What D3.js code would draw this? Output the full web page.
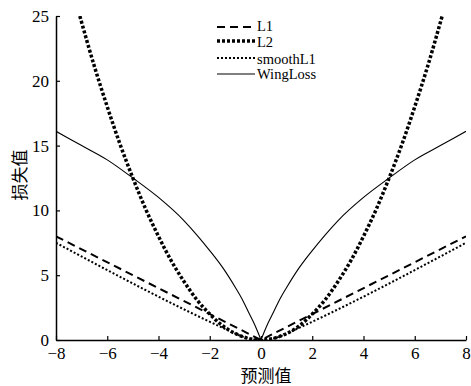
<!DOCTYPE html>
<html>
<head>
<meta charset="utf-8">
<script src="https://cdn.jsdelivr.net/npm/d3@7/dist/d3.min.js"></script>
<style>
  body { margin: 0; background: #fff; }
  svg text { fill: #000; }
  .serif { font-family: "Liberation Serif", "Times New Roman", "DejaVu Serif", serif; }
  .cjk { font-family: "Noto Sans CJK SC", sans-serif; }
</style>
</head>
<body>
<svg id="chart" width="471" height="386"></svg>
<script>
// values
const xTicks = [-8, -6, -4, -2, 0, 2, 4, 6, 8];
const yTicks = [0, 5, 10, 15, 20, 25];
const seriesNames = ["L1", "L2", "smoothL1", "WingLoss"];

const l1X = [-8, 0, 8];
const l1Y = [8, 0, 8];

const l2X = [-7.07, -6.5, -6, -5.5, -5, -4.5, -4, -3.5, -3, -2.5, -2, -1.5, -1, -0.5, 0,
             0.5, 1, 1.5, 2, 2.5, 3, 3.5, 4, 4.5, 5, 5.5, 6, 6.5, 7.07];
const l2Y = [25, 21.1, 18, 15.1, 12.5, 10.1, 8, 6.1, 4.5, 3.1, 2, 1.1, 0.5, 0.13, 0,
             0.13, 0.5, 1.1, 2, 3.1, 4.5, 6.1, 8, 10.1, 12.5, 15.1, 18, 21.1, 25];

const smoothX = [-8, -1, -0.75, -0.5, -0.25, 0, 0.25, 0.5, 0.75, 1, 8];
const smoothY = [7.5, 0.5, 0.28, 0.13, 0.03, 0, 0.03, 0.13, 0.28, 0.5, 7.5];

// WingLoss has a sharp point at 0, so each side is kept separately
const wingLeftX = [-8, -7, -6, -5, -4, -3, -2.5, -2, -1.5, -1, -0.75, -0.5, -0.25, -0.1, 0];
const wingLeftY = [16.1, 15.0, 13.9, 12.5, 11.0, 9.2, 8.1, 6.9, 5.6, 4.05, 3.2, 2.2, 1.2, 0.5, 0];
const wingRightX = [0, 0.1, 0.25, 0.5, 0.75, 1, 1.5, 2, 2.5, 3, 4, 5, 6, 7, 8];
const wingRightY = [0, 0.5, 1.2, 2.2, 3.2, 4.05, 5.6, 6.9, 8.1, 9.2, 11.0, 12.5, 13.9, 15.0, 16.1];

const svg = d3.select("#chart");
const mLeft = 56, mRight = 466, mTop = 16, mBottom = 340;
const serifFont = '"Liberation Serif", "Times New Roman", "DejaVu Serif", serif';

const x = d3.scaleLinear().domain([-8, 8]).range([mLeft, mRight]);
const y = d3.scaleLinear().domain([0, 25]).range([mBottom, mTop]);

svg.append("defs").append("clipPath").attr("id", "plot")
  .append("rect")
  .attr("x", mLeft).attr("y", mTop)
  .attr("width", mRight - mLeft).attr("height", mBottom - mTop);

const series = [
  { name: seriesNames[0], parts: [[l1X, l1Y]], width: 2, dash: "8,5", curve: d3.curveLinear },
  { name: seriesNames[1], parts: [[l2X, l2Y]], width: 3.5, dash: "3,2", curve: d3.curveMonotoneX },
  { name: seriesNames[2], parts: [[smoothX, smoothY]], width: 2, dash: "2,2", curve: d3.curveMonotoneX },
  { name: seriesNames[3], parts: [[wingLeftX, wingLeftY], [wingRightX, wingRightY]], width: 1.1, dash: null, curve: d3.curveMonotoneX }
];

const g = svg.append("g").attr("clip-path", "url(#plot)");
series.forEach(s => {
  s.parts.forEach(([xs, ys]) => {
    const pts = xs.map((v, i) => [v, ys[i]]);
    g.append("path")
      .datum(pts)
      .attr("fill", "none")
      .attr("stroke", "#000")
      .attr("stroke-width", s.width)
      .attr("stroke-dasharray", s.dash)
      .attr("d", d3.line().x(d => x(d[0])).y(d => y(d[1])).curve(s.curve));
  });
});

// axes, ticks point inward
const xAxis = svg.append("g")
  .attr("transform", `translate(0,${mBottom})`)
  .call(d3.axisBottom(x).tickValues(xTicks).tickSizeInner(-4).tickSizeOuter(0).tickPadding(7));
const yAxis = svg.append("g")
  .attr("transform", `translate(${mLeft},0)`)
  .call(d3.axisLeft(y).tickValues(yTicks).tickSizeInner(-4).tickSizeOuter(0).tickPadding(7));

[xAxis, yAxis].forEach(a => {
  a.attr("font-family", serifFont).attr("font-size", 17);
  a.select(".domain").attr("stroke", "#000").attr("stroke-width", 1.5);
  a.selectAll(".tick line").attr("stroke", "#000").attr("stroke-width", 1.2);
  a.selectAll(".tick text")
    .style("font-family", serifFont)
    .style("font-size", "17px")
    .attr("fill", "#000");
});

svg.append("text")
  .attr("class", "cjk")
  .attr("x", 266).attr("y", 382)
  .attr("text-anchor", "middle")
  .style("font-size", "17px")
  .text("预测值");

svg.append("text")
  .attr("class", "cjk")
  .attr("transform", "translate(26,175) rotate(-90)")
  .attr("text-anchor", "middle")
  .style("font-size", "17px")
  .text("损失值");

// legend
const legendLines = [27, 41, 58, 74];
const legendBase = [31, 47, 64, 79];
const legend = svg.append("g");
series.forEach((s, i) => {
  legend.append("line")
    .attr("x1", 217).attr("x2", 255)
    .attr("y1", legendLines[i]).attr("y2", legendLines[i])
    .attr("stroke", "#000")
    .attr("stroke-width", s.width)
    .attr("stroke-dasharray", s.dash);
  legend.append("text")
    .attr("class", "serif")
    .attr("x", 257).attr("y", legendBase[i])
    .style("font-size", "14.5px")
    .text(s.name);
});
</script>
</body>
</html>
